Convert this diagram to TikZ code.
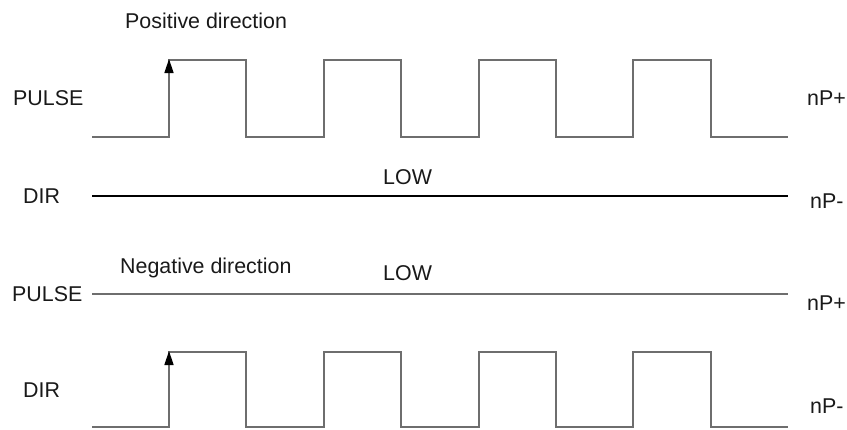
\documentclass[tikz,border=0pt]{standalone}
\usepackage{fontspec}
\setmainfont{Liberation Sans}
\usetikzlibrary{arrows.meta}
\definecolor{wavegray}{HTML}{6E6E6E}
\newcommand\mypulses[2]{%
  (92,#1) -- (169,#1) -- (169,#2) -- (246,#2) -- (246,#1)
  -- (324,#1) -- (324,#2) -- (401,#2) -- (401,#1)
  -- (479,#1) -- (479,#2) -- (556,#2) -- (556,#1)
  -- (633,#1) -- (633,#2) -- (711,#2) -- (711,#1) -- (788,#1)}
\tikzset{
  lbl/.style={anchor=base west, inner sep=0pt, font=\fontsize{21.4}{25}\selectfont, text=black!90},
  wave/.style={draw=wavegray, line width=1.5pt, line join=miter},
  lvlblack/.style={draw=black, line width=1.4pt},
  lvlgray/.style={draw=wavegray, line width=1.8pt},
  edge/.style={draw=wavegray, line width=1.5pt, shorten >=-1pt,
    -{Triangle[length=14pt,width=9pt,fill=black,color=black]}},
}
\begin{document}
\begin{tikzpicture}[x=1pt,y=-1pt]
\useasboundingbox (0,0) rectangle (847,429);
% labels
\node[lbl] (posdir) at (125,28) {Positive direction};
\node[lbl] (pulse1) at (13,105) {PULSE};
\node[lbl] (np1) at (807,105) {nP+};
\node[lbl] (dir1) at (23,203) {DIR};
\node[lbl] (low1) at (383,184) {LOW};
\node[lbl] (nm1) at (810,208) {nP-};
\node[lbl] (negdir) at (120,273) {Negative direction};
\node[lbl] (low2) at (383,280) {LOW};
\node[lbl] (pulse2) at (12,301) {PULSE};
\node[lbl] (np2) at (807,310) {nP+};
\node[lbl] (dir2) at (23,397) {DIR};
\node[lbl] (nm2) at (810,413) {nP-};
% top pulse train
\draw[wave] \mypulses{137}{60};
\coordinate (a1s) at (169,137);
\coordinate (a1e) at (169,60);
\draw[edge] (a1s) -- (a1e);
% DIR low level
\coordinate (d1s) at (92,196);
\coordinate (d1e) at (788,196);
\draw[lvlblack] (d1s) -- (d1e);
% bottom PULSE low level
\coordinate (p2s) at (92,294);
\coordinate (p2e) at (788,294);
\draw[lvlgray] (p2s) -- (p2e);
% bottom DIR pulse train
\draw[wave] \mypulses{427}{352};
\coordinate (a2s) at (169,427);
\coordinate (a2e) at (169,352);
\draw[edge] (a2s) -- (a2e);
\end{tikzpicture}
\end{document}
